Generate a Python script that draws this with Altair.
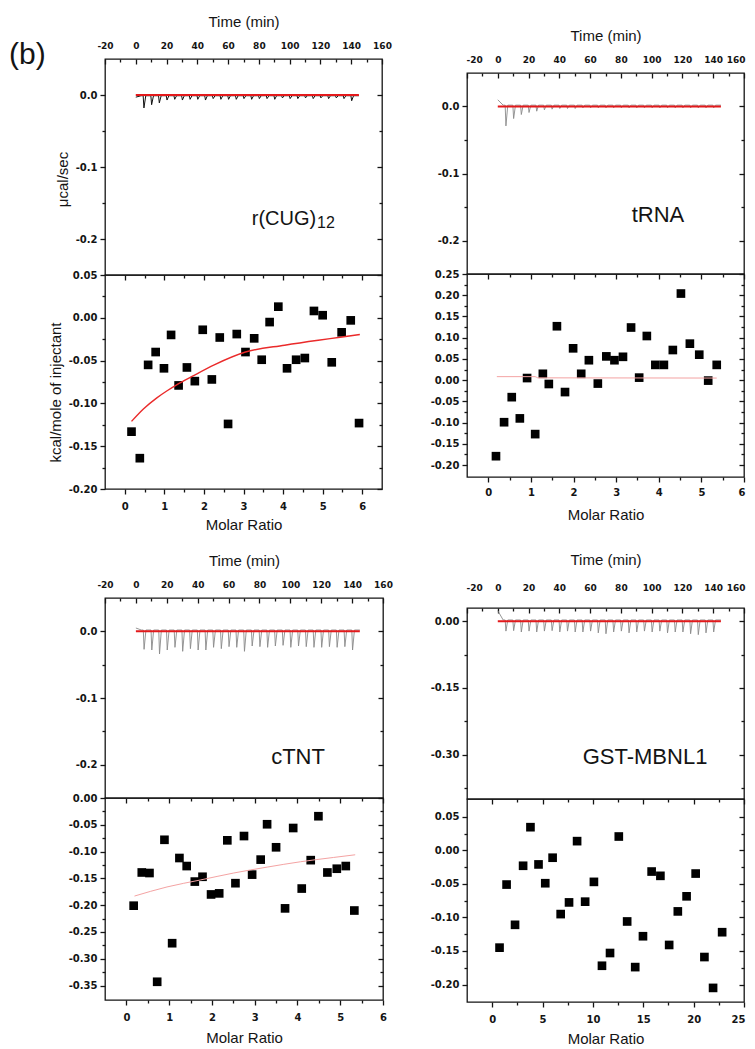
import altair as alt
import pandas as pd

# ---------------- data ----------------
inj_times = [5, 10, 15, 20, 25, 30, 35, 40, 45, 50, 55, 60, 65, 70, 75, 80,
             85, 90, 95, 100, 105, 110, 115, 120, 125, 130, 135, 140]

# raw thermograms: minimum of each injection peak (ucal/sec)
cug_spikes = [-0.018, -0.0135, -0.011, -0.007, -0.006, -0.007, -0.006, -0.006, -0.007, -0.005,
              -0.006, -0.006, -0.006, -0.005, -0.006, -0.005, -0.005, -0.006, -0.004, -0.005,
              -0.005, -0.004, -0.005, -0.004, -0.005, -0.004, -0.005, -0.008]
trna_spikes = [-0.029, -0.018, -0.012, -0.009, -0.007, -0.005, -0.004, -0.003, -0.003, -0.003,
               -0.002, -0.002, -0.002, -0.002, -0.002, -0.002, -0.002, -0.002, -0.002, -0.002,
               -0.002, -0.002, -0.002, -0.002, -0.002, -0.002, -0.002, -0.002]
ctnt_spikes = [-0.027, -0.028, -0.034, -0.028, -0.024, -0.030, -0.026, -0.028, -0.028, -0.024,
               -0.026, -0.023, -0.024, -0.030, -0.022, -0.023, -0.024, -0.022, -0.021, -0.024,
               -0.022, -0.023, -0.024, -0.024, -0.023, -0.024, -0.023, -0.028]
mbnl_spikes = [-0.022, -0.021, -0.024, -0.022, -0.024, -0.022, -0.021, -0.024, -0.022, -0.024,
               -0.024, -0.022, -0.026, -0.028, -0.024, -0.022, -0.026, -0.024, -0.022, -0.024,
               -0.022, -0.026, -0.024, -0.024, -0.028, -0.030, -0.026, -0.024]
# value at t=0 and baseline level of each thermogram
cug_start, cug_level = -0.003, -0.001
trna_start, trna_level = 0.010, 0.002
ctnt_start, ctnt_level = 0.005, 0.002
mbnl_start, mbnl_level = 0.024, 0.003

# red baseline of the raw data
base_t = [0, 145]
base_y = [0.0, 0.0]

# integrated heats (kcal/mole of injectant) vs molar ratio
cug_ratio = [0.17, 0.38, 0.59, 0.78, 0.99, 1.17, 1.36, 1.57, 1.77, 1.97, 2.20, 2.40, 2.61, 2.83,
             3.05, 3.27, 3.46, 3.66, 3.88, 4.10, 4.33, 4.55, 4.78, 5.00, 5.23, 5.48, 5.71, 5.92]
cug_heat = [-0.133, -0.164, -0.055, -0.040, -0.059, -0.020, -0.079, -0.058, -0.074, -0.014,
            -0.072, -0.023, -0.124, -0.019, -0.040, -0.024, -0.049, -0.005, 0.013, -0.059,
            -0.049, -0.047, 0.008, 0.003, -0.052, -0.017, -0.003, -0.123]
cug_fit_ratio = [0.17, 0.47, 0.81, 1.06, 1.32, 1.70, 2.26, 3.05, 4.04, 4.89, 5.49, 5.94]
cug_fit_heat = [-0.121, -0.1065, -0.0935, -0.0855, -0.078, -0.0685, -0.055, -0.040, -0.032,
                -0.0262, -0.0225, -0.0195]

trna_ratio = [0.18, 0.37, 0.55, 0.74, 0.91, 1.10, 1.28, 1.42, 1.61, 1.80, 1.99, 2.18, 2.36, 2.57,
              2.77, 2.96, 3.16, 3.35, 3.54, 3.72, 3.92, 4.12, 4.33, 4.52, 4.73, 4.95, 5.16, 5.36]
trna_heat = [-0.179, -0.099, -0.040, -0.090, 0.005, -0.127, 0.015, -0.009, 0.127, -0.028,
             0.075, 0.015, 0.047, -0.008, 0.056, 0.047, 0.055, 0.124, 0.006, 0.104,
             0.036, 0.036, 0.071, 0.204, 0.086, 0.060, -0.001, 0.036]
trna_fit_ratio = [0.20, 1.10, 1.16, 5.36]
trna_fit_heat = [0.0083, 0.0083, 0.0055, 0.0050]

ctnt_ratio = [0.17, 0.36, 0.54, 0.72, 0.89, 1.07, 1.24, 1.41, 1.60, 1.78, 1.98, 2.17, 2.36, 2.55,
              2.75, 2.94, 3.14, 3.29, 3.50, 3.71, 3.90, 4.10, 4.31, 4.49, 4.70, 4.92, 5.13, 5.33]
ctnt_heat = [-0.201, -0.139, -0.140, -0.343, -0.078, -0.271, -0.112, -0.127, -0.156, -0.147,
             -0.180, -0.178, -0.079, -0.159, -0.071, -0.143, -0.115, -0.049, -0.092, -0.206,
             -0.056, -0.169, -0.116, -0.034, -0.139, -0.132, -0.127, -0.210]
ctnt_fit_ratio = [0.19, 0.95, 1.73, 2.51, 3.29, 4.07, 4.84, 5.35]
ctnt_fit_heat = [-0.183, -0.166, -0.153, -0.140, -0.129, -0.119, -0.111, -0.106]

mbnl_ratio = [0.73, 1.43, 2.27, 3.07, 3.80, 4.60, 5.27, 6.00, 6.80, 7.63, 8.43, 9.23, 10.10, 10.90,
              11.70, 12.57, 13.40, 14.20, 14.97, 15.83, 16.70, 17.57, 18.43, 19.30, 20.20, 21.07,
              21.93, 22.83]
mbnl_heat = [-0.145, -0.051, -0.111, -0.023, 0.0345, -0.021, -0.049, -0.011, -0.095, -0.0776,
             0.0137, -0.0765, -0.047, -0.172, -0.153, 0.0206, -0.106, -0.174, -0.128, -0.0316,
             -0.038, -0.141, -0.091, -0.0685, -0.0346, -0.159, -0.205, -0.122]

# tick values
time_major = [-20, 0, 20, 40, 60, 80, 100, 120, 140, 160]
time_minor = [-10, 10, 30, 50, 70, 90, 110, 130, 150]
raw_major = [0.0, -0.1, -0.2]
raw_minor = [-0.05, -0.15]
mbnl_raw_major = [0.0, -0.15, -0.3]
mbnl_raw_minor = [-0.075, -0.225, -0.375]
ratio6_major = [0, 1, 2, 3, 4, 5, 6]
ratio6_minor = [0.5, 1.5, 2.5, 3.5, 4.5, 5.5]
ratio25_major = [0, 5, 10, 15, 20, 25]
ratio25_minor = [2.5, 7.5, 12.5, 17.5, 22.5]
cug_y_major = [0.05, 0.0, -0.05, -0.1, -0.15, -0.2]
cug_y_minor = [0.025, -0.025, -0.075, -0.125, -0.175]
trna_y_major = [0.25, 0.2, 0.15, 0.1, 0.05, 0.0, -0.05, -0.1, -0.15, -0.2]
trna_y_minor = [0.225, 0.175, 0.125, 0.075, 0.025, -0.025, -0.075, -0.125, -0.175]
ctnt_y_major = [0.0, -0.05, -0.1, -0.15, -0.2, -0.25, -0.3, -0.35]
ctnt_y_minor = [-0.025, -0.075, -0.125, -0.175, -0.225, -0.275, -0.325]
mbnl_y_major = [0.05, 0.0, -0.05, -0.1, -0.15, -0.2]
mbnl_y_minor = [0.025, -0.025, -0.075, -0.125, -0.175]

# ---------------- styling helpers ----------------
INK = "#141414"
RED = "#e3191b"
LABEL_FONT = "DejaVu Sans"
TEXT_FONT = "Liberation Sans"
TICK_W = 1.3
MAJOR, MINOR = 5, 3


def fmt_expr(fmt):
    return f"(datum.value < 0 ? '-' : '') + format(abs(datum.value), '{fmt}')"


def label_axis(orient, major, fmt, title=None, label_pad=3, title_pad=5, ticks=True,
               label_size=10, flush=False, **extra):
    kw = dict(orient=orient, values=major, labelExpr=fmt_expr(fmt), domain=False, grid=False,
              labelFont=LABEL_FONT, labelFontSize=label_size, labelFontWeight="bold",
              labelColor=INK, labelPadding=label_pad, labelOverlap=False,
              title=title, titleFont=TEXT_FONT, titleFontSize=15, titleFontWeight="normal",
              titleColor=INK, titlePadding=title_pad)
    if flush:
        kw.update(labelFlush=True, labelFlushOffset=1)
    else:
        kw.update(labelFlush=False)
    if ticks:
        kw.update(ticks=True, tickSize=MAJOR, tickColor=INK, tickWidth=TICK_W)
    else:
        kw.update(ticks=False, tickSize=0)
    kw.update(extra)
    return alt.Axis(**kw)


def tick_axis(orient, values, size, offset=0):
    kw = dict(orient=orient, values=values, labels=False, ticks=True, tickSize=size,
              tickColor=INK, tickWidth=TICK_W, domain=False, grid=False, title=None,
              minExtent=0)
    if offset:
        kw["offset"] = offset
    return alt.Axis(**kw)


def ghost(df, xf, yf, xs, ys, xaxis, yaxis):
    return alt.Chart(df).mark_point(opacity=0).encode(
        x=alt.X(xf, scale=xs, axis=xaxis), y=alt.Y(yf, scale=ys, axis=yaxis))


def trace_frame(start, level, spikes):
    t = [0.0, 3.5]
    y = [start, level]
    for ti, d in zip(inj_times, spikes):
        t += [ti - 0.2, ti + 0.3, ti + 1.5]
        y += [level, d, level]
    t.append(145.0)
    y.append(level)
    return pd.DataFrame({"t": t, "y": y})


def top_plot(W, H, ydom, ymaj, ymin, yfmt, trace_df, tcolor, twidth, texts,
             tpad=9, ttpad=12, ytitle=None, ytitle_y=None, flush=False):
    xs = alt.Scale(domain=[-20, 160], nice=False, zero=False)
    ys = alt.Scale(domain=ydom, nice=False, zero=False)
    xa = label_axis("top", time_major, "d", title="Time (min)", label_pad=tpad,
                    title_pad=ttpad, ticks=False, label_size=9, flush=flush)
    extra = {}
    if ytitle_y is not None:
        extra["titleY"] = ytitle_y
    ya = label_axis("left", ymaj, yfmt, title=ytitle, label_pad=3, title_pad=5, **extra)
    base_df = pd.DataFrame({"t": base_t, "y": base_y})
    trace = alt.Chart(trace_df).mark_line(color=tcolor, strokeWidth=twidth).encode(
        x=alt.X("t:Q", scale=xs, axis=xa), y=alt.Y("y:Q", scale=ys, axis=ya))
    base = alt.Chart(base_df).mark_line(color=RED, strokeWidth=2).encode(
        x=alt.X("t:Q", scale=xs, axis=tick_axis("bottom", time_major, MAJOR, -H)),
        y=alt.Y("y:Q", scale=ys, axis=tick_axis("left", ymin, MINOR)))
    g1 = ghost(base_df, "t:Q", "y:Q", xs, ys, tick_axis("bottom", time_minor, MINOR, -H),
               tick_axis("left", ymaj, MAJOR, -W))
    g2 = ghost(base_df, "t:Q", "y:Q", xs, ys, None, tick_axis("left", ymin, MINOR, -W))
    layers = [trace, g1, g2, base]
    for tx, ty, s, fs, align in texts:
        layers.append(
            alt.Chart(pd.DataFrame({"t": [tx], "y": [ty], "s": [s]})).mark_text(
                font=TEXT_FONT, fontSize=fs, align=align, baseline="alphabetic", color=INK
            ).encode(x=alt.X("t:Q", scale=xs, axis=None), y=alt.Y("y:Q", scale=ys, axis=None),
                     text="s:N"))
    return alt.layer(*layers).resolve_axis(x="independent", y="independent").properties(
        width=W, height=H)


def bottom_plot(W, H, xdom, xmaj, xmin, ydom, ymaj, ymin, ratio, heat, fit=None,
                fit_color=RED, fit_width=1.3, bpad=7.5, btpad=7, ytitle=None, ytitle_y=None,
                flush=False):
    xs = alt.Scale(domain=xdom, nice=False, zero=False)
    ys = alt.Scale(domain=ydom, nice=False, zero=False)
    xa = label_axis("bottom", xmaj, "d", title="Molar Ratio", label_pad=bpad, title_pad=btpad,
                    flush=flush)
    extra = {}
    if ytitle_y is not None:
        extra["titleY"] = ytitle_y
    ya = label_axis("left", ymaj, ".2f", title=ytitle, label_pad=3, title_pad=5, **extra)
    df = pd.DataFrame({"r": ratio, "h": heat})
    pts = alt.Chart(df).mark_square(size=75, color="black", opacity=1).encode(
        x=alt.X("r:Q", scale=xs, axis=xa), y=alt.Y("h:Q", scale=ys, axis=ya))
    x_minor = tick_axis("bottom", xmin, MINOR)
    y_minor = tick_axis("left", ymin, MINOR)
    if fit is not None:
        second = alt.Chart(pd.DataFrame({"r": fit[0], "h": fit[1]})).mark_line(
            color=fit_color, strokeWidth=fit_width, interpolate="monotone").encode(
            x=alt.X("r:Q", scale=xs, axis=x_minor), y=alt.Y("h:Q", scale=ys, axis=y_minor))
    else:
        second = ghost(df, "r:Q", "h:Q", xs, ys, x_minor, y_minor)
    g1 = ghost(df, "r:Q", "h:Q", xs, ys, tick_axis("bottom", xmaj, MAJOR, -H),
               tick_axis("left", ymaj, MAJOR, -W))
    g2 = ghost(df, "r:Q", "h:Q", xs, ys, tick_axis("bottom", xmin, MINOR, -H),
               tick_axis("left", ymin, MINOR, -W))
    return alt.layer(pts, g1, g2, second).resolve_axis(
        x="independent", y="independent").properties(width=W, height=H)


# ---------------- panels ----------------
top1 = top_plot(277, 216, [-0.25, 0.05], raw_major, raw_minor, ".1f",
                trace_frame(cug_start, cug_level, cug_spikes), "#111111", 1.0,
                [(96.3, -0.1806, "r(CUG)", 20, "center"), (117.8, -0.1847, "12", 16, "left"),
                 (-70.4, 0.0426, "(b)", 30, "center")],
                ytitle="\u03bccal/sec", ytitle_y=120)
bot1 = bottom_plot(277, 214, [-0.5, 6.5], ratio6_major, ratio6_minor, [-0.2, 0.05],
                   cug_y_major, cug_y_minor, cug_ratio, cug_heat,
                   fit=(cug_fit_ratio, cug_fit_heat), fit_color="#ea2a2a", fit_width=1.4,
                   ytitle="kcal/mole of injectant", ytitle_y=117, btpad=6)

top2 = top_plot(277, 201, [-0.25, 0.05], raw_major, raw_minor, ".1f",
                trace_frame(trna_start, trna_level, trna_spikes), "#8a8a8a", 0.9,
                [(104.1, -0.1724, "tRNA", 22, "center")], flush=True)
bot2 = bottom_plot(277, 203, [-0.5, 6.0], ratio6_major, ratio6_minor, [-0.228, 0.25],
                   trna_y_major, trna_y_minor, trna_ratio, trna_heat,
                   fit=(trna_fit_ratio, trna_fit_heat), fit_color="#f4a3a3", fit_width=1.0,
                   bpad=5, btpad=10, flush=True)

top3 = top_plot(278, 200, [-0.25, 0.05], raw_major, raw_minor, ".1f",
                trace_frame(ctnt_start, ctnt_level, ctnt_spikes), "#8a8a8a", 0.9,
                [(105.0, -0.199, "cTNT", 22, "center")])
bot3 = bottom_plot(278, 202, [-0.5, 6.0], ratio6_major, ratio6_minor, [-0.377, 0.0],
                   ctnt_y_major, ctnt_y_minor, ctnt_ratio, ctnt_heat,
                   fit=(ctnt_fit_ratio, ctnt_fit_heat), fit_color="#f4a3a3", fit_width=1.0,
                   btpad=8)

top4 = top_plot(277, 191, [-0.40, 0.03], mbnl_raw_major, mbnl_raw_minor, ".2f",
                trace_frame(mbnl_start, mbnl_level, mbnl_spikes), "#8a8a8a", 0.9,
                [(95.7, -0.3205, "GST-MBNL1", 22, "center")], tpad=16, ttpad=15.5, flush=True)
bot4 = bottom_plot(277, 203, [-2.5, 25.0], ratio25_major, ratio25_minor, [-0.226, 0.0765],
                   mbnl_y_major, mbnl_y_minor, mbnl_ratio, mbnl_heat, btpad=7, flush=True)

spacer = alt.Chart(pd.DataFrame({"v": [0]})).mark_point(opacity=0).encode(
    x=alt.X("v:Q", axis=None), y=alt.Y("v:Q", axis=None)).properties(
    width=277, height=14, view=alt.ViewBackground(stroke="transparent"))

p1 = alt.vconcat(top1, bot1, spacing=0, bounds="flush")
p2 = alt.vconcat(spacer, top2, bot2, spacing=0, bounds="flush")
p3 = alt.vconcat(top3, bot3, spacing=0, bounds="flush")
p4 = alt.vconcat(top4, bot4, spacing=0, bounds="flush")

col_left = alt.vconcat(p1, p3, spacing=18)
col_right = alt.vconcat(p2, p4, spacing=28)

chart = alt.hconcat(col_left, col_right, spacing=35).properties(
    padding={"left": 0, "top": 5, "right": 0, "bottom": 0}
).configure_view(stroke=INK, strokeWidth=1.3)

chart.save("out.html", embed_options={"renderer": "svg", "actions": False})
